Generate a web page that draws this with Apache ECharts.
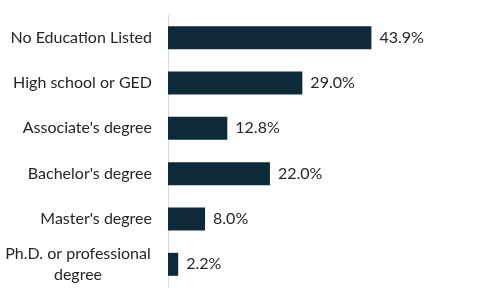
<!DOCTYPE html>
<html>
<head>
<meta charset="utf-8">
<script src="https://cdn.jsdelivr.net/npm/echarts@6/dist/echarts.min.js"></script>
<style>html,body{margin:0;padding:0;background:#fff}#c{width:477px;height:302px}</style>
</head>
<body>
<div id="c"></div>
<script>
const categories = ["No Education Listed", "High school or GED", "Associate's degree", "Bachelor's degree", "Master's degree", "Ph.D. or professional degree"];
const values = [43.9, 29.0, 12.8, 22.0, 8.0, 2.2];

const chart = echarts.init(document.getElementById('c'), null, {renderer: 'canvas'});
const font = 'Lato';
chart.setOption({
  animation: false,
  grid: {left: 168, right: 31, top: 15, bottom: 15, containLabel: false},
  xAxis: {type: 'value', min: 0, max: 60, show: false},
  yAxis: {
    type: 'category',
    data: categories,
    inverse: true,
    axisLine: {show: true, lineStyle: {color: '#d9d9d9', width: 1}},
    axisTick: {show: false},
    splitLine: {show: false},
    axisLabel: {
      margin: 16,
      color: '#262626',
      fontFamily: font,
      fontSize: 16,
      formatter: function (v) {
        if (v === "Ph.D. or professional degree") {
          return '{c|Ph.D. or professional}\n{c|degree}';
        }
        return v;
      },
      rich: {c: {width: 148, align: 'center', fontFamily: font, fontSize: 16, color: '#262626', lineHeight: 21}}
    }
  },
  series: [{
    type: 'bar',
    data: values,
    barWidth: 23,
    itemStyle: {color: '#0e2a38'},
    label: {
      show: true,
      position: 'right',
      distance: 8,
      color: '#262626',
      fontFamily: font,
      fontSize: 16,
      formatter: function (p) { return p.value.toFixed(1) + '%'; }
    }
  }]
});
</script>
</body>
</html>
